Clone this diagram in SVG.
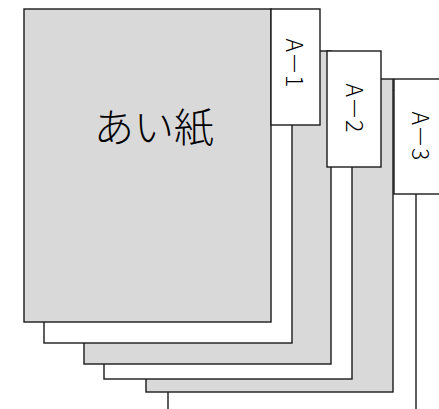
<svg xmlns="http://www.w3.org/2000/svg" width="439" height="409" viewBox="0 0 439 409">
<style>
.g{fill:#d9d9d9;stroke:#1a1a1a;stroke-width:1.4}
.w{fill:#ffffff;stroke:#1a1a1a;stroke-width:1.4}
.t{font-family:"Noto Sans CJK JP","Noto Sans",sans-serif;font-weight:300;fill:#000}
</style>
<rect width="439" height="409" fill="#fff"/>
<g id="sheet6"><rect class="w" x="168" y="90" width="248" height="330"/></g>
<g id="sheet5"><rect class="g" x="146" y="79" width="247" height="313"/></g>
<g id="sheet4"><rect class="w" x="104" y="60" width="248" height="319"/></g>
<g id="sheet3"><rect class="g" x="84" y="51" width="247" height="313"/></g>
<g id="sheet2"><rect class="w" x="44" y="20" width="248" height="323"/></g>
<g id="sheet1"><rect class="g" x="24" y="9" width="247" height="313"/>
<text class="t" x="154" y="142" font-size="40" text-anchor="middle">あい紙</text></g>
<g id="tabA1"><rect class="w" x="271" y="9" width="49" height="116"/>
<text class="t" font-size="23" text-anchor="middle" transform="translate(286,63) rotate(90)">A－1</text></g>
<g id="tabA2"><rect class="w" x="327" y="51" width="54" height="116"/>
<text class="t" font-size="23" text-anchor="middle" transform="translate(346,108) rotate(90)">A－2</text></g>
<g id="tabA3"><rect class="w" x="394" y="79" width="54" height="115"/>
<text class="t" font-size="23" text-anchor="middle" transform="translate(412,136) rotate(90)">A－3</text></g>
</svg>
